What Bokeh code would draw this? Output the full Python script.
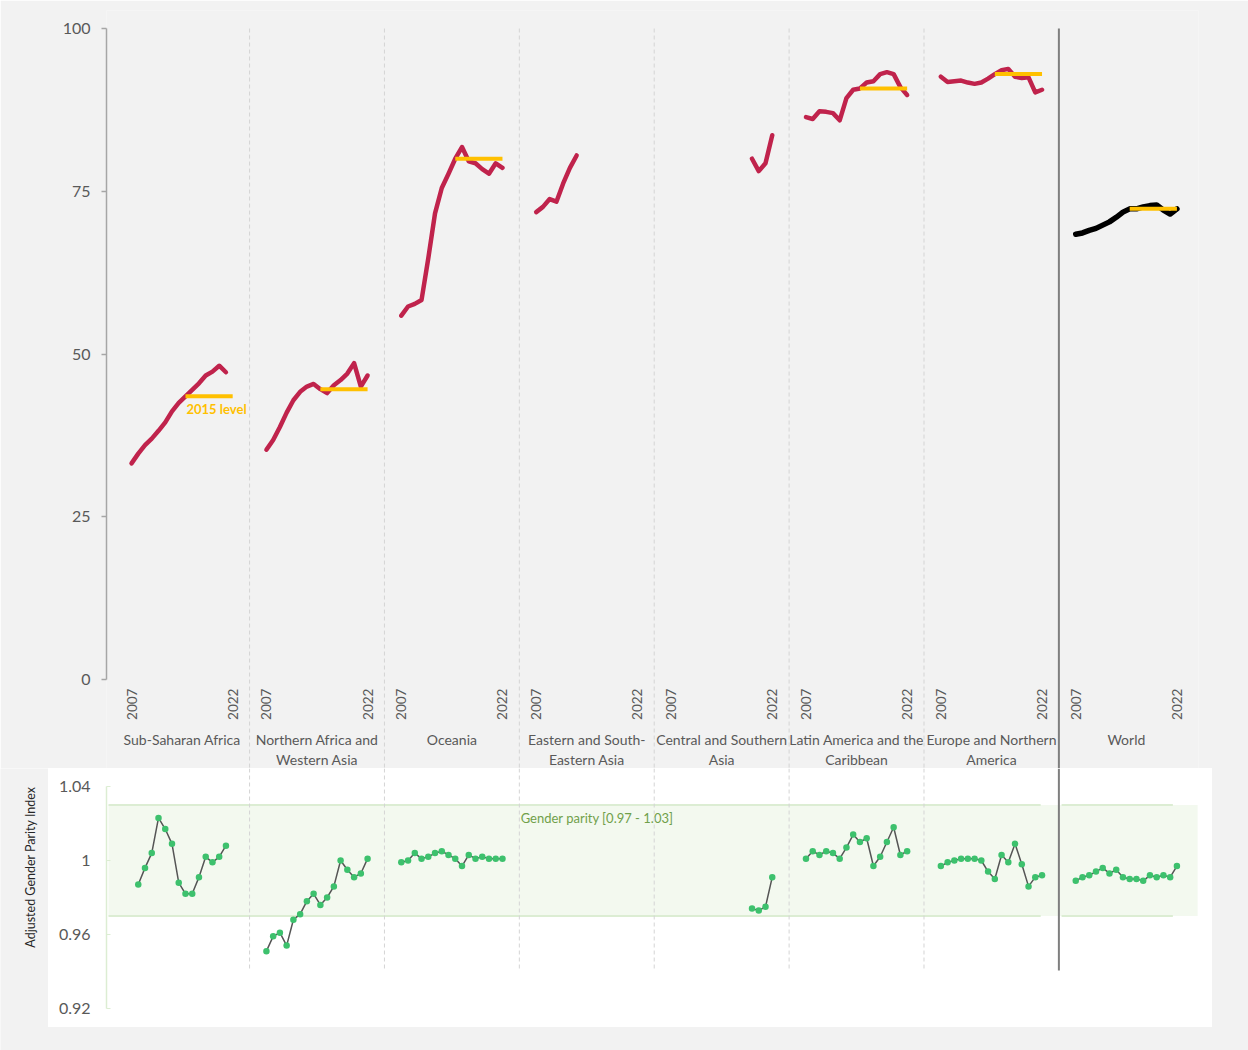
import math

from bokeh.core.properties import value
from bokeh.embed import file_html
from bokeh.layouts import column, row
from bokeh.models import ColumnDataSource, Div, FixedTicker, Range1d
from bokeh.plotting import figure
from bokeh.resources import INLINE

nan = float("nan")

# ---------------------------------------------------------------- data
years = list(range(2007, 2023))
regions = [
    "Sub-Saharan Africa",
    "Northern Africa and\nWestern Asia",
    "Oceania",
    "Eastern and South-\nEastern Asia",
    "Central and Southern\nAsia",
    "Latin America and the\nCaribbean",
    "Europe and Northern\nAmerica",
    "World",
]

# completion rate (%) by year, 2007-2022
rate_ssa = [33.2, 34.7, 36.0, 37.0, 38.2, 39.5, 41.2, 42.5, 43.5, 44.5, 45.5, 46.7, 47.3, 48.2, 47.2, nan]
rate_nawa = [35.3, 36.8, 38.8, 41.0, 42.9, 44.2, 45.0, 45.4, 44.6, 44.0, 45.2, 46.0, 47.0, 48.6, 45.0, 46.7]
rate_oceania = [55.9, 57.3, 57.7, 58.3, 64.7, 71.6, 75.5, 77.7, 80.0, 81.8, 79.6, 79.3, 78.4, 77.7, 79.3, 78.6]
rate_esea = [71.8, 72.6, 73.8, 73.4, 76.2, 78.6, 80.5, nan, nan, nan, nan, nan, nan, nan, nan, nan]
rate_csa = [nan, nan, nan, nan, nan, nan, nan, nan, nan, nan, nan, nan, 80.0, 78.1, 79.3, 83.6]
rate_lac = [86.4, 86.1, 87.3, 87.2, 87.0, 85.9, 89.3, 90.6, 90.8, 91.7, 91.9, 93.0, 93.3, 93.0, 91.0, 89.8]
rate_ena = [92.6, 91.8, 91.9, 92.0, 91.7, 91.5, 91.7, 92.3, 93.0, 93.6, 93.8, 92.6, 92.4, 92.5, 90.2, 90.6]
rate_world = [68.4, 68.6, 69.0, 69.3, 69.8, 70.3, 71.0, 71.8, 72.3, 72.3, 72.6, 72.8, 72.9, 72.1, 71.5, 72.3]

# adjusted gender parity index by year, 2007-2022
gpi_ssa = [nan, 0.987, 0.996, 1.004, 1.023, 1.017, 1.009, 0.988, 0.982, 0.982, 0.991, 1.002, 0.999, 1.002, 1.008, nan]
gpi_nawa = [0.951, 0.959, 0.961, 0.954, 0.968, 0.971, 0.978, 0.982, 0.976, 0.980, 0.986, 1.000, 0.995, 0.991, 0.993, 1.001]
gpi_oceania = [0.999, 1.000, 1.004, 1.001, 1.002, 1.004, 1.005, 1.003, 1.001, 0.997, 1.003, 1.001, 1.002, 1.001, 1.001, 1.001]
gpi_esea = [nan] * 16
gpi_csa = [nan, nan, nan, nan, nan, nan, nan, nan, nan, nan, nan, nan, 0.974, 0.973, 0.975, 0.991]
gpi_lac = [1.001, 1.005, 1.003, 1.005, 1.004, 1.001, 1.007, 1.014, 1.010, 1.012, 0.997, 1.002, 1.010, 1.018, 1.003, 1.005]
gpi_ena = [0.997, 0.999, 1.000, 1.001, 1.001, 1.001, 1.000, 0.994, 0.990, 1.003, 0.999, 1.009, 0.998, 0.986, 0.991, 0.992]
gpi_world = [0.989, 0.991, 0.992, 0.994, 0.996, 0.993, 0.995, 0.991, 0.990, 0.990, 0.989, 0.992, 0.991, 0.992, 0.991, 0.997]

rates = [rate_ssa, rate_nawa, rate_oceania, rate_esea, rate_csa, rate_lac, rate_ena, rate_world]
gpis = [gpi_ssa, gpi_nawa, gpi_oceania, gpi_esea, gpi_csa, gpi_lac, gpi_ena, gpi_world]

level_year = 2015
level_label = "2015 level"
rate_ticks = [0, 25, 50, 75, 100]
gpi_ticks = [0.92, 0.96, 1.0, 1.04]
gpi_labels = {0.92: "0.92", 0.96: "0.96", 1.0: "1", 1.04: "1.04"}
parity_low, parity_high = 0.97, 1.03
parity_label = "Gender parity [0.97 - 1.03]"
gpi_title = "Adjusted Gender Parity Index"

# ---------------------------------------------------------------- styling
FONT = "Lato"
BG = "#f2f2f2"
RED = "#c0234c"
GOLD = "#ffc000"
TEXT = "#595959"
GREEN_DOT = "#3dc16d"
BAND_FILL = "#f3f9ef"
BAND_EDGE = "#dcedd3"
SEP = "#d4d4d4"

GAP = 4                      # empty year slots between region panels
SLOTS = len(years) + GAP


def xpos(group, year):
    return group * SLOTS + (year - years[0])


X_START, X_END = -3.71, 158.2
last = len(regions) - 1
sep_dashed = [g * SLOTS - GAP / 2 - 0.5 for g in range(1, last)]
sep_solid = [last * SLOTS - GAP / 2 - 0.5]

# ---------------------------------------------------------------- top chart
top = figure(
    width=1248, height=768,
    x_range=Range1d(X_START, X_END), y_range=Range1d(-13.67, 102.77),
    output_backend="svg", toolbar_location=None, x_axis_location=None,
    min_border_left=106, min_border_right=50, min_border_top=10, min_border_bottom=0,
    background_fill_color=BG, border_fill_color=BG, outline_line_color=None,
)
top.grid.visible = False
yax = top.yaxis[0]
yax.ticker = FixedTicker(ticks=rate_ticks)
yax.bounds = (0, 100)
yax.axis_line_color = "#a6a6a6"
yax.axis_line_width = 1.5
yax.major_tick_line_color = "#a6a6a6"
yax.major_tick_line_width = 1.5
yax.major_tick_in = 0
yax.major_tick_out = 5
yax.minor_tick_line_color = None
yax.major_label_standoff = 11
yax.major_label_text_font = FONT
yax.major_label_text_font_size = "16px"
yax.major_label_text_color = TEXT

# panel separators
top.segment(x0=sep_dashed, y0=100, x1=sep_dashed, y1=-13.67,
            line_color=SEP, line_width=1, line_dash="4 3")
top.segment(x0=sep_solid, y0=100, x1=sep_solid, y1=-13.67,
            line_color="#7f7f7f", line_width=2)

# completion-rate lines and 2015 reference levels
for g, series in enumerate(rates):
    src = ColumnDataSource(dict(x=[xpos(g, y) for y in years], y=series))
    colour = "black" if g == last else RED
    top.line("x", "y", source=src, line_color=colour, line_width=4.5 if g != last else 5.5,
             line_join="round", line_cap="round")
for g, series in enumerate(rates):
    lvl = series[years.index(level_year)]
    if not math.isnan(lvl):
        top.segment(x0=[xpos(g, level_year)], y0=[lvl], x1=[xpos(g, years[-1])], y1=[lvl],
                    line_color=GOLD, line_width=4, line_cap="butt")

lvl_ssa = rates[0][years.index(level_year)]
top.text(x=[xpos(0, level_year) + 0.15], y=[lvl_ssa - 1.9], text=[level_label],
         text_font=value(FONT), text_font_size="13px", text_font_style="bold",
         text_color=GOLD, text_align="left", text_baseline="middle")

# year tick labels and region names
yr_x, yr_t = [], []
for g in range(len(regions)):
    for yr in (years[0], years[-1]):
        yr_x.append(xpos(g, yr))
        yr_t.append(str(yr))
top.text(x=yr_x, y=[-1.4] * len(yr_x), text=yr_t, angle=math.pi / 2,
         text_font=value(FONT), text_font_size="13.5px", text_color=TEXT,
         text_align="right", text_baseline="middle")
top.text(x=[g * SLOTS + (len(years) - 1) / 2 for g in range(len(regions))],
         y=[-7.9] * len(regions), text=regions,
         text_font=value(FONT), text_font_size="14px", text_color=TEXT,
         text_align="center", text_baseline="top", text_line_height=1.2)

# ---------------------------------------------------------------- GPI chart
bottom = figure(
    width=1164, height=259,
    x_range=Range1d(X_START, X_END), y_range=Range1d(0.90973, 1.04973),
    output_backend="svg", toolbar_location=None, x_axis_location=None,
    min_border_left=58, min_border_right=14, min_border_top=0, min_border_bottom=0,
    background_fill_color="white", border_fill_color="white", outline_line_color=None,
)
bottom.grid.visible = False
gax = bottom.yaxis[0]
gax.ticker = FixedTicker(ticks=gpi_ticks)
gax.bounds = (gpi_ticks[0], gpi_ticks[-1])
gax.major_label_overrides = gpi_labels
gax.axis_line_color = BAND_EDGE
gax.axis_line_width = 1.5
gax.major_tick_line_color = BAND_EDGE
gax.major_tick_in = 4
gax.major_tick_out = 0
gax.minor_tick_line_color = None
gax.major_label_standoff = 16
gax.major_label_text_font = FONT
gax.major_label_text_font_size = "16px"
gax.major_label_text_color = TEXT

# parity band
bottom.quad(left=[-3.41], right=[158.07], bottom=[parity_low], top=[parity_high],
            fill_color=BAND_FILL, line_color=None)
edge_x0 = [-3.41, 137.9]
edge_x1 = [134.8, 154.4]
for yv in (parity_low, parity_high):
    bottom.segment(x0=edge_x0, y0=yv, x1=edge_x1, y1=yv, line_color=BAND_EDGE, line_width=2)
bottom.text(x=[57.7], y=[1.0232], text=[parity_label],
            text_font=value(FONT), text_font_size="13px", text_color="#70a04a",
            text_align="left", text_baseline="middle")

bottom.segment(x0=sep_dashed, y0=1.04973, x1=sep_dashed, y1=0.9405,
               line_color=SEP, line_width=1, line_dash="4 3")
bottom.segment(x0=sep_solid, y0=1.04973, x1=sep_solid, y1=0.9405,
               line_color="#7f7f7f", line_width=2)

for g, series in enumerate(gpis):
    src = ColumnDataSource(dict(x=[xpos(g, y) for y in years], y=series))
    bottom.line("x", "y", source=src, line_color="#555555", line_width=1.5)
    bottom.scatter("x", "y", source=src, size=6.5, fill_color=GREEN_DOT, line_color=None)

# axis title sits on the grey margin to the left of the white panel
title_fig = figure(
    width=48, height=282, x_range=Range1d(0, 48), y_range=Range1d(0, 282),
    output_backend="svg", toolbar_location=None,
    x_axis_location=None, y_axis_location=None, min_border=0,
    background_fill_color=BG, border_fill_color=BG, outline_line_color=None,
)
title_fig.grid.visible = False
title_fig.text(x=[30], y=[183.5], text=[gpi_title], angle=math.pi / 2,
               text_font=value(FONT), text_font_size="12.5px", text_color="#262626",
               text_align="center", text_baseline="middle")

gap_below = Div(width=1164, height=23, margin=0, styles={"background-color": BG})
pad_right = Div(width=36, height=282, margin=0, styles={"background-color": BG})

layout = column(top, row(title_fig, column(bottom, gap_below, spacing=0), pad_right, spacing=0), spacing=0)

open("out.html", "w").write(file_html(layout, INLINE))
